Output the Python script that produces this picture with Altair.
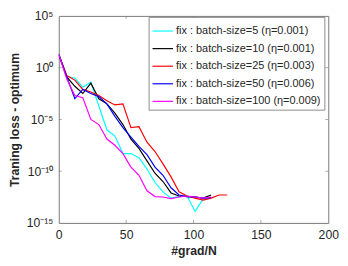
import altair as alt
import pandas as pd

# ---- data ----
x_pts = [0, 5.95, 11.9, 17.85, 23.8, 29.75, 35.7, 41.65, 47.6, 53.55, 59.5,
         65.45, 71.4, 77.35, 83.3, 89.25, 95.2, 101.15, 107.1, 113.05, 119.0, 124.95]

series_names = [
    "fix : batch-size=5 (η=0.001)",
    "fix : batch-size=10 (η=0.001)",
    "fix : batch-size=25 (η=0.003)",
    "fix : batch-size=50 (η=0.006)",
    "fix : batch-size=100 (η=0.009)",
]
series_colors = ["#00FFFF", "#000000", "#FF0000", "#0000FF", "#FF00FF"]

bs5 = [19, 1.4e-1, 1.0e-1, 1.3e-2, 4.0e-2, 2.0e-4, 1.0e-6, 2.5e-7, 5.0e-9, 5.0e-9,
       2.0e-9, 1.6e-10, 8.0e-12, 1.0e-12, 2.5e-13, 3.5e-13, 4.0e-13, 1.3e-14, 2.0e-13, 2.5e-13]
bs10 = [19, 1.26e-1, 1.6e-2, 3.2e-3, 3.2e-2, 1.0e-3, 3.2e-4, 4.0e-5, 3.2e-6, 1.26e-7,
        1.6e-8, 1.0e-9, 6.3e-11, 1.0e-11, 7.9e-13, 4.0e-13, 3.5e-13, 3.2e-13, 2.5e-13, 5.0e-13]
bs25 = [19, 1.74e-1, 6.3e-2, 7.9e-3, 4.5e-3, 2.0e-3, 6.3e-4, 2.5e-4, 3.2e-4, 1.6e-6,
        2.0e-6, 6.3e-8, 7.9e-9, 5.0e-10, 2.8e-11, 1.0e-12, 4.0e-13, 2.5e-13, 1.6e-13, 2.5e-13,
        5.0e-13, 5.0e-13]
bs50 = [19, 1.26e-1, 1.0e-3, 7.9e-3, 3.2e-3, 1.6e-3, 3.2e-4, 2.0e-5, 1.6e-6, 2.0e-7,
        2.5e-8, 4.0e-9, 2.5e-10, 4.0e-11, 2.5e-12, 5.0e-13, 3.5e-13, 3.2e-13, 2.5e-13, 2.8e-13]
bs100 = [19, 7.9e-2, 2.0e-3, 1.26e-3, 1.0e-5, 3.2e-6, 1.26e-7, 3.2e-8, 5.0e-9, 2.5e-10,
         4.0e-11, 1.26e-12, 3.5e-13, 3.2e-13, 2.2e-13, 3.2e-13, 4.0e-13, 3.2e-13, 2.5e-13, 3.2e-13]

x_domain = [0, 200]
y_domain = [1e-15, 1e5]
x_tick_values = [0, 50, 100, 150, 200]
y_tick_values = [1e-15, 1e-10, 1e-5, 1e0, 1e5]
y_tick_labels = ["10⁻¹⁵", "10⁻¹⁰", "10⁻⁵", "10⁰", "10⁵"]

# ---- tables ----
rows = []
for name, vals in zip(series_names, [bs5, bs10, bs25, bs50, bs100]):
    for xv, yv in zip(x_pts, vals):
        rows.append({"x": xv, "y": yv, "series": name})
df = pd.DataFrame(rows)

# label expression for log axis labels
parts = []
for i in range(len(y_tick_values) - 1):
    thr = (y_tick_values[i] * y_tick_values[i + 1]) ** 0.5
    parts.append(f"datum.value < {thr:g} ? '{y_tick_labels[i]}' : ")
label_expr = "".join(parts) + f"'{y_tick_labels[-1]}'"

FONT = "Liberation Sans"
AX = "#777777"
TXT = "#262626"
W, H = 276, 212

x_enc = alt.X("x:Q", scale=alt.Scale(domain=x_domain, nice=False, zero=False),
              axis=alt.Axis(values=x_tick_values, title="#grad/N", grid=False, domain=False,
                            ticks=False, tickSize=0, labelFlush=False, labelOverlap=False,
                            labelFont=FONT, labelFontSize=12.5, labelColor=TXT,
                            labelBaseline="middle", labelPadding=12,
                            titleFont=FONT, titleFontSize=12.5, titleFontWeight="bold",
                            titleColor=TXT, titleY=28, titleBaseline="middle"))
y_enc = alt.Y("y:Q", scale=alt.Scale(type="log", domain=y_domain, nice=False),
              axis=alt.Axis(values=y_tick_values, labelExpr=label_expr,
                            title="Traning loss - optimum", grid=False, domain=False,
                            ticks=False, tickSize=0, labelFlush=False, labelOverlap=False,
                            labelFont=FONT, labelFontSize=12.5, labelColor=TXT,
                            labelPadding=6,
                            titleFont=FONT, titleFontSize=12.5, titleFontWeight="bold",
                            titleColor=TXT, titleX=-45, titleY=H / 2, titleBaseline="middle"))

lines = alt.Chart(df).mark_line(strokeWidth=1.2, clip=True).encode(
    x=x_enc,
    y=y_enc,
    color=alt.Color("series:N",
                    scale=alt.Scale(domain=series_names, range=series_colors),
                    legend=alt.Legend(title=None, orient="none", legendX=92, legendY=1,
                                      direction="vertical", symbolType="stroke",
                                      symbolSize=441, symbolStrokeWidth=1.2,
                                      labelFont=FONT, labelFontSize=11.2, labelColor=TXT,
                                      labelLimit=0, labelOffset=2, rowPadding=1,
                                      padding=3, strokeColor="#8a8a8a", fillColor="white",
                                      cornerRadius=0)),
    order=alt.Order("x:Q"),
)

# inward ticks (MATLAB style) on all four sides
inner_x = [v for v in x_tick_values if v not in x_domain]
inner_y = [v for v in y_tick_values if v not in y_domain]
bt = pd.DataFrame({"x": inner_x, "y": [y_domain[0]] * len(inner_x)})
tt = pd.DataFrame({"x": inner_x, "y": [y_domain[1]] * len(inner_x)})
lt = pd.DataFrame({"x": [x_domain[0]] * len(inner_y), "y": inner_y})
rt = pd.DataFrame({"x": [x_domain[1]] * len(inner_y), "y": inner_y})

tick_kw = dict(size=3, thickness=0.9, color=AX)
bottom_ticks = alt.Chart(bt).mark_tick(orient="vertical", yOffset=-1.5, **tick_kw).encode(x=x_enc, y=y_enc)
top_ticks = alt.Chart(tt).mark_tick(orient="vertical", yOffset=1.5, **tick_kw).encode(x=x_enc, y=y_enc)
left_ticks = alt.Chart(lt).mark_tick(orient="horizontal", xOffset=1.5, **tick_kw).encode(x=x_enc, y=y_enc)
right_ticks = alt.Chart(rt).mark_tick(orient="horizontal", xOffset=-1.5, **tick_kw).encode(x=x_enc, y=y_enc)

chart = alt.layer(lines, bottom_ticks, top_ticks, left_ticks, right_ticks).properties(
    width=W, height=H,
    autosize=alt.AutoSizeParams(type="none"),
    padding={"left": 52, "top": 5, "right": 12, "bottom": 41},
    background="white",
).configure_view(stroke=AX, strokeWidth=1)

chart.save("out.html", embed_options={"renderer": "svg", "actions": False})
